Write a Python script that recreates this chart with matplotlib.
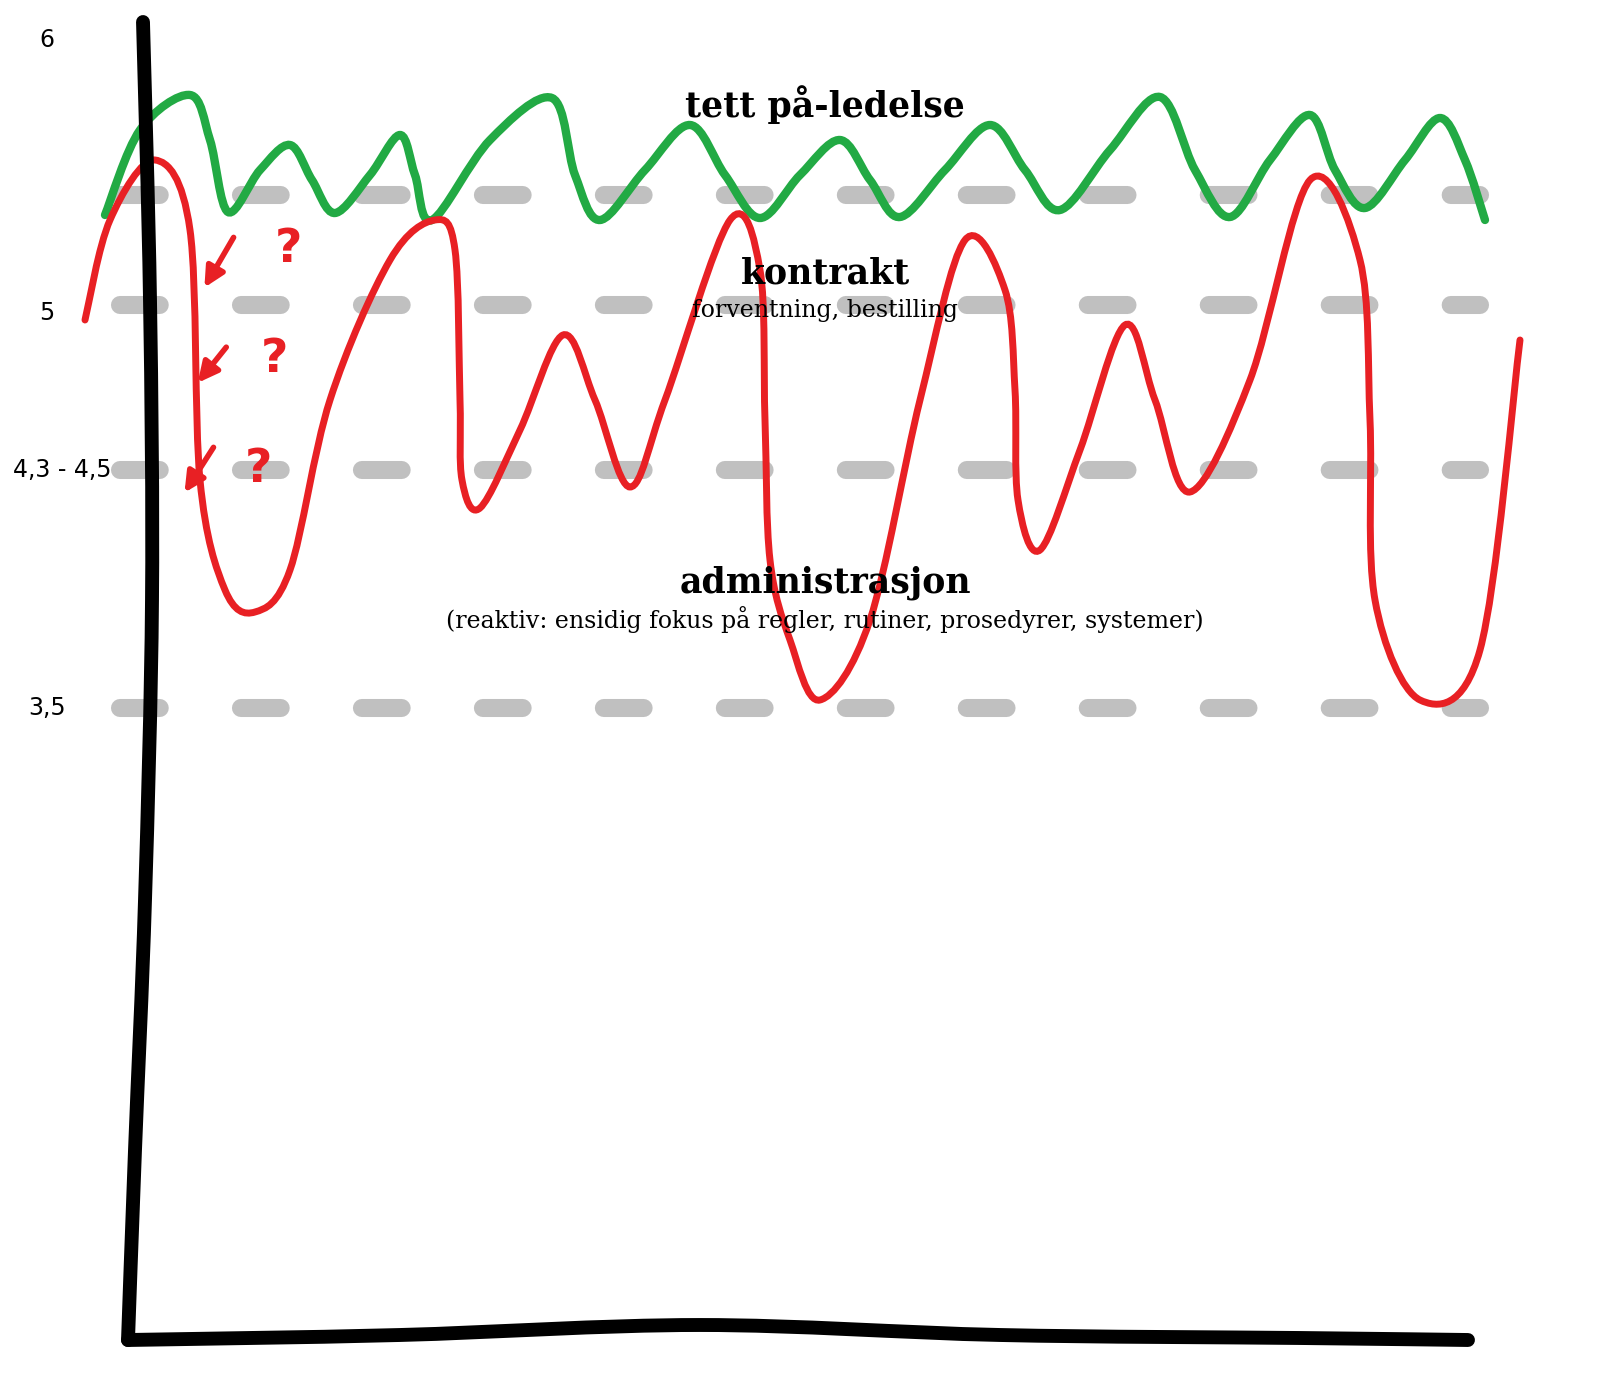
import matplotlib
matplotlib.use("Agg")
import matplotlib.pyplot as plt
from matplotlib.path import Path
from matplotlib.patches import PathPatch

# Chart drawn in picture units (x: 0..1600 left->right, y: 0..1399 top->bottom)
green_x = [105, 140, 190, 210, 228, 260, 290, 312, 335, 370, 400, 415, 432, 490, 552, 575, 600, 645, 690, 725, 760, 800, 840, 870, 900, 945, 990, 1025, 1060, 1110, 1160, 1195, 1230, 1270, 1310, 1335, 1365, 1405, 1440, 1465, 1485]
green_y = [215, 130, 95, 140, 212, 170, 145, 180, 213, 175, 135, 175, 220, 140, 98, 175, 220, 170, 125, 175, 218, 175, 140, 180, 217, 170, 125, 170, 210, 150, 97, 170, 217, 160, 115, 170, 208, 160, 118, 160, 220]

red_x = [85, 110, 155, 190, 200, 225, 255, 290, 330, 390, 435, 455, 460, 462, 480, 520, 563, 595, 630, 665, 730, 760, 765, 770, 790, 820, 870, 920, 965, 1005, 1015, 1018, 1040, 1080, 1125, 1155, 1190, 1250, 1310, 1360, 1370, 1375, 1420, 1480, 1520]
red_y = [320, 220, 160, 230, 480, 590, 612, 570, 400, 260, 220, 250, 400, 480, 508, 430, 335, 400, 487, 400, 220, 270, 420, 560, 640, 700, 620, 400, 240, 290, 390, 500, 550, 450, 325, 400, 492, 380, 180, 260, 420, 600, 700, 650, 340]

grid_levels = [195, 305, 470, 708]
tick_pos = [40, 313, 470, 708]
tick_labels = ["6", "5", "4,3 - 4,5", "3,5"]

yaxis_x = [143, 150, 152, 145, 135, 128]
yaxis_y = [22, 300, 600, 900, 1150, 1340]
xaxis_x = [128, 400, 700, 1000, 1300, 1468]
xaxis_y = [1340, 1335, 1325, 1335, 1338, 1340]


def smooth_path(xs, ys):
    # Catmull-Rom through the points, drawn as cubic Bezier segments
    pts = list(zip(xs, ys))
    verts = [pts[0]]
    codes = [Path.MOVETO]
    for i in range(len(pts) - 1):
        p0 = pts[max(i - 1, 0)]
        p1, p2 = pts[i], pts[i + 1]
        p3 = pts[min(i + 2, len(pts) - 1)]
        c1 = (p1[0] + (p2[0] - p0[0]) / 6, p1[1] + (p2[1] - p0[1]) / 6)
        c2 = (p2[0] - (p3[0] - p1[0]) / 6, p2[1] - (p3[1] - p1[1]) / 6)
        verts += [c1, c2, p2]
        codes += [Path.CURVE4] * 3
    return Path(verts, codes)


fig = plt.figure(figsize=(16, 13.99), dpi=100)
ax = fig.add_axes([0, 0, 1, 1])
ax.set_xlim(0, 1600)
ax.set_ylim(1399, 0)
ax.axis("off")

for y in grid_levels:
    ax.plot([120, 1480], [y, y], color="#c0c0c0", lw=13, ls=(0, (2.2, 4.5)),
            solid_capstyle="round", dash_capstyle="round", zorder=1)

ax.add_patch(PathPatch(smooth_path(green_x, green_y), fill=False,
                       ec="#22aa44", lw=6, capstyle="round", zorder=3))
ax.add_patch(PathPatch(smooth_path(red_x, red_y), fill=False,
                       ec="#e82024", lw=5, capstyle="round", zorder=3))
for xs, ys in [(yaxis_x, yaxis_y), (xaxis_x, xaxis_y)]:
    ax.add_patch(PathPatch(smooth_path(xs, ys), fill=False, ec="black", lw=10,
                           capstyle="round", joinstyle="round", zorder=4))

for p, lab in zip(tick_pos, tick_labels):
    ax.text(47 if len(lab) < 4 else 62, p, lab, ha="center", va="center",
            fontsize=17, family="DejaVu Sans")

serif = ["DejaVu Serif"]
ax.text(825, 105, "tett på-ledelse", ha="center", va="center",
        fontsize=25, fontweight="bold", family=serif, zorder=5)
ax.text(825, 273, "kontrakt", ha="center", va="center",
        fontsize=25, fontweight="bold", family=serif, zorder=5)
ax.text(825, 310, "forventning, bestilling", ha="center", va="center",
        fontsize=17, family=serif, zorder=5)
ax.text(825, 583, "administrasjon", ha="center", va="center",
        fontsize=25, fontweight="bold", family=serif, zorder=5)
ax.text(825, 620, "(reaktiv: ensidig fokus på regler, rutiner, prosedyrer, systemer)",
        ha="center", va="center", fontsize=17, family=serif, zorder=5)

# hand-drawn arrows with question marks
for (x0, y0, y1), (qx, qy) in zip([(215, 235, 290), (208, 345, 385), (195, 445, 495)],
                                  [(288, 250), (275, 360), (258, 470)]):
    ax.annotate("", xy=(x0 - 12, y1), xytext=(x0 + 20, y0),
                arrowprops=dict(arrowstyle="-|>", color="#e82024", lw=4,
                                mutation_scale=30), zorder=5)
    ax.text(qx, qy, "?", color="#e82024", fontsize=34, fontweight="bold",
            ha="center", va="center", zorder=5)

fig.savefig("out.png", dpi=100, facecolor="white")
